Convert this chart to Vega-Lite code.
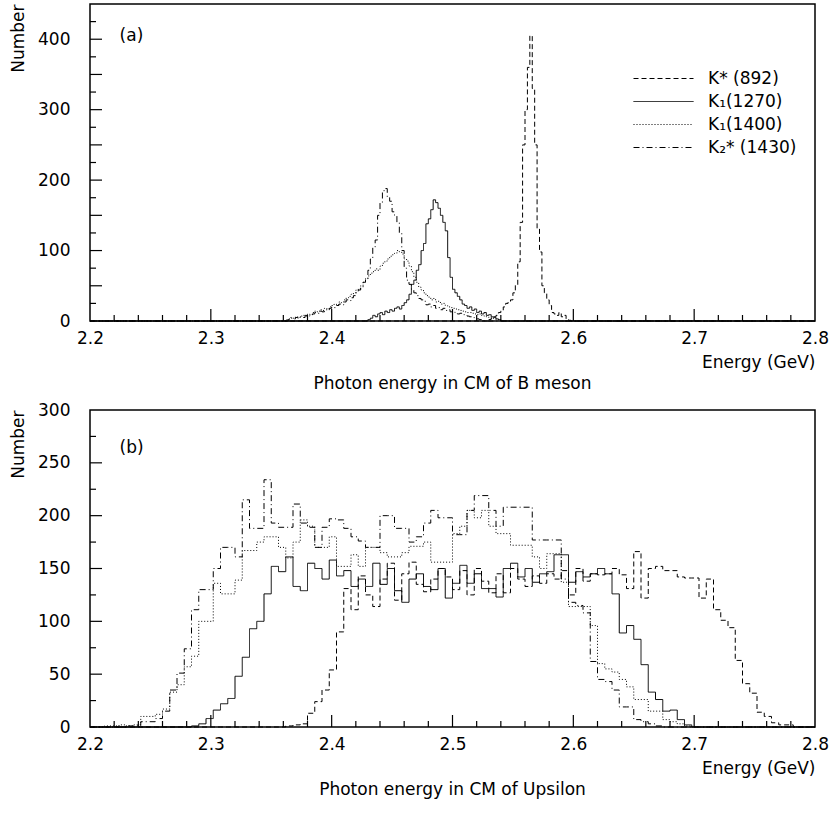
{
  "$schema": "https://vega.github.io/schema/vega-lite/v6.json",
  "padding": {"left": 8, "top": 3, "right": 10, "bottom": 0},
  "background": "white",
  "spacing": 7,
  "config": {
    "font": "DejaVu Sans",
    "view": {"stroke": "black", "strokeWidth": 1.5},
    "axis": {
      "domain": false, "ticks": false,
      "labelColor": "black", "titleColor": "black",
      "labelFont": "DejaVu Sans", "titleFont": "DejaVu Sans",
      "labelFontSize": 17, "titleFontSize": 17, "titleFontWeight": "normal",
      "grid": false, "labelOverlap": false, "labelFlush": false
    },
    "tick": {"color": "black", "opacity": 1, "thickness": 1.2},
    "title": {"font": "DejaVu Sans", "fontSize": 17, "fontWeight": "normal", "color": "black"}
  },
  "resolve": {"scale": {"strokeDash": "independent", "x": "independent", "y": "independent"}, "legend": {"strokeDash": "independent"}},
  "datasets": {
    "xmajor": [{"v": 2.3}, {"v": 2.4}, {"v": 2.5}, {"v": 2.6}, {"v": 2.7}],
    "xminor": [{"v":2.22},{"v":2.24},{"v":2.26},{"v":2.28},{"v":2.32},{"v":2.34},{"v":2.36},{"v":2.38},{"v":2.42},{"v":2.44},{"v":2.46},{"v":2.48},{"v":2.52},{"v":2.54},{"v":2.56},{"v":2.58},{"v":2.62},{"v":2.64},{"v":2.66},{"v":2.68},{"v":2.72},{"v":2.74},{"v":2.76},{"v":2.78}],
    "yamajor": [{"v":50},{"v":100},{"v":150},{"v":200},{"v":250},{"v":300},{"v":350},{"v":400}],
    "yaminor": [{"v":25},{"v":75},{"v":125},{"v":175},{"v":225},{"v":275},{"v":325},{"v":375},{"v":425}],
    "ybmajor": [{"v":50},{"v":100},{"v":150},{"v":200},{"v":250}],
    "ybminor": [{"v":25},{"v":75},{"v":125},{"v":175},{"v":225},{"v":275}],
    "a": [
      {"x":2.2,"a892":0,"b1270":0,"c1400":0,"d1430":0},
      {"x":2.360,"a892":0,"b1270":0,"c1400":0,"d1430":0},
      {"x":2.362,"a892":0,"b1270":0,"c1400":2,"d1430":0},
      {"x":2.364,"a892":0,"b1270":0,"c1400":3,"d1430":2},
      {"x":2.366,"a892":0,"b1270":0,"c1400":5,"d1430":4},
      {"x":2.368,"a892":0,"b1270":0,"c1400":4,"d1430":3},
      {"x":2.370,"a892":0,"b1270":0,"c1400":6,"d1430":5},
      {"x":2.372,"a892":0,"b1270":0,"c1400":5,"d1430":4},
      {"x":2.374,"a892":0,"b1270":0,"c1400":7,"d1430":6},
      {"x":2.376,"a892":0,"b1270":0,"c1400":8,"d1430":5},
      {"x":2.378,"a892":0,"b1270":0,"c1400":7,"d1430":8},
      {"x":2.380,"a892":0,"b1270":0,"c1400":10,"d1430":7},
      {"x":2.382,"a892":0,"b1270":0,"c1400":9,"d1430":9},
      {"x":2.384,"a892":0,"b1270":0,"c1400":12,"d1430":10},
      {"x":2.386,"a892":0,"b1270":0,"c1400":14,"d1430":12},
      {"x":2.388,"a892":0,"b1270":0,"c1400":13,"d1430":11},
      {"x":2.390,"a892":0,"b1270":0,"c1400":16,"d1430":14},
      {"x":2.392,"a892":0,"b1270":0,"c1400":15,"d1430":13},
      {"x":2.394,"a892":0,"b1270":0,"c1400":18,"d1430":16},
      {"x":2.396,"a892":0,"b1270":0,"c1400":17,"d1430":15},
      {"x":2.398,"a892":0,"b1270":0,"c1400":20,"d1430":18},
      {"x":2.400,"a892":0,"b1270":0,"c1400":22,"d1430":20},
      {"x":2.402,"a892":0,"b1270":0,"c1400":24,"d1430":19},
      {"x":2.404,"a892":0,"b1270":0,"c1400":23,"d1430":22},
      {"x":2.406,"a892":0,"b1270":0,"c1400":27,"d1430":24},
      {"x":2.408,"a892":0,"b1270":0,"c1400":26,"d1430":23},
      {"x":2.410,"a892":0,"b1270":0,"c1400":30,"d1430":27},
      {"x":2.412,"a892":0,"b1270":0,"c1400":33,"d1430":30},
      {"x":2.414,"a892":0,"b1270":0,"c1400":35,"d1430":29},
      {"x":2.416,"a892":0,"b1270":0,"c1400":38,"d1430":33},
      {"x":2.418,"a892":0,"b1270":0,"c1400":40,"d1430":36},
      {"x":2.420,"a892":0,"b1270":0,"c1400":44,"d1430":40},
      {"x":2.422,"a892":0,"b1270":0,"c1400":46,"d1430":44},
      {"x":2.424,"a892":0,"b1270":0,"c1400":50,"d1430":48},
      {"x":2.426,"a892":0,"b1270":0,"c1400":55,"d1430":55},
      {"x":2.428,"a892":0,"b1270":0,"c1400":60,"d1430":60},
      {"x":2.430,"a892":0,"b1270":2,"c1400":64,"d1430":72},
      {"x":2.432,"a892":0,"b1270":4,"c1400":68,"d1430":88},
      {"x":2.434,"a892":0,"b1270":8,"c1400":70,"d1430":105},
      {"x":2.436,"a892":0,"b1270":6,"c1400":74,"d1430":115},
      {"x":2.438,"a892":0,"b1270":10,"c1400":72,"d1430":150},
      {"x":2.440,"a892":0,"b1270":12,"c1400":78,"d1430":168},
      {"x":2.442,"a892":0,"b1270":9,"c1400":82,"d1430":185},
      {"x":2.444,"a892":0,"b1270":14,"c1400":85,"d1430":188},
      {"x":2.446,"a892":0,"b1270":12,"c1400":88,"d1430":176},
      {"x":2.448,"a892":0,"b1270":16,"c1400":92,"d1430":170},
      {"x":2.450,"a892":0,"b1270":14,"c1400":94,"d1430":155},
      {"x":2.452,"a892":0,"b1270":18,"c1400":96,"d1430":150},
      {"x":2.454,"a892":0,"b1270":20,"c1400":100,"d1430":140},
      {"x":2.456,"a892":0,"b1270":17,"c1400":98,"d1430":125},
      {"x":2.458,"a892":0,"b1270":22,"c1400":95,"d1430":100},
      {"x":2.460,"a892":0,"b1270":26,"c1400":88,"d1430":75},
      {"x":2.462,"a892":0,"b1270":30,"c1400":85,"d1430":58},
      {"x":2.464,"a892":0,"b1270":38,"c1400":78,"d1430":52},
      {"x":2.466,"a892":0,"b1270":52,"c1400":70,"d1430":45},
      {"x":2.468,"a892":0,"b1270":58,"c1400":62,"d1430":40},
      {"x":2.470,"a892":0,"b1270":72,"c1400":55,"d1430":36},
      {"x":2.472,"a892":0,"b1270":80,"c1400":48,"d1430":32},
      {"x":2.474,"a892":0,"b1270":100,"c1400":44,"d1430":30},
      {"x":2.476,"a892":0,"b1270":110,"c1400":40,"d1430":28},
      {"x":2.478,"a892":0,"b1270":138,"c1400":36,"d1430":23},
      {"x":2.480,"a892":0,"b1270":145,"c1400":34,"d1430":24},
      {"x":2.482,"a892":0,"b1270":158,"c1400":30,"d1430":20},
      {"x":2.484,"a892":0,"b1270":172,"c1400":32,"d1430":22},
      {"x":2.486,"a892":0,"b1270":168,"c1400":27,"d1430":18},
      {"x":2.488,"a892":0,"b1270":160,"c1400":28,"d1430":19},
      {"x":2.490,"a892":0,"b1270":150,"c1400":24,"d1430":16},
      {"x":2.492,"a892":0,"b1270":140,"c1400":25,"d1430":18},
      {"x":2.494,"a892":0,"b1270":128,"c1400":22,"d1430":15},
      {"x":2.496,"a892":0,"b1270":90,"c1400":20,"d1430":16},
      {"x":2.498,"a892":0,"b1270":62,"c1400":19,"d1430":13},
      {"x":2.500,"a892":0,"b1270":45,"c1400":18,"d1430":14},
      {"x":2.502,"a892":0,"b1270":40,"c1400":17,"d1430":12},
      {"x":2.504,"a892":0,"b1270":35,"c1400":16,"d1430":10},
      {"x":2.506,"a892":0,"b1270":30,"c1400":15,"d1430":11},
      {"x":2.508,"a892":0,"b1270":24,"c1400":14,"d1430":9},
      {"x":2.510,"a892":0,"b1270":22,"c1400":13,"d1430":8},
      {"x":2.512,"a892":0,"b1270":18,"c1400":12,"d1430":7},
      {"x":2.514,"a892":0,"b1270":20,"c1400":12,"d1430":6},
      {"x":2.516,"a892":0,"b1270":15,"c1400":11,"d1430":5},
      {"x":2.518,"a892":0,"b1270":17,"c1400":10,"d1430":4},
      {"x":2.520,"a892":0,"b1270":12,"c1400":9,"d1430":3},
      {"x":2.522,"a892":0,"b1270":14,"c1400":10,"d1430":2},
      {"x":2.524,"a892":0,"b1270":10,"c1400":8,"d1430":1},
      {"x":2.526,"a892":0,"b1270":12,"c1400":7,"d1430":0},
      {"x":2.528,"a892":0,"b1270":8,"c1400":6,"d1430":0},
      {"x":2.530,"a892":2,"b1270":9,"c1400":5,"d1430":0},
      {"x":2.532,"a892":4,"b1270":6,"c1400":4,"d1430":0},
      {"x":2.534,"a892":6,"b1270":5,"c1400":3,"d1430":0},
      {"x":2.536,"a892":8,"b1270":3,"c1400":2,"d1430":0},
      {"x":2.538,"a892":12,"b1270":2,"c1400":1,"d1430":0},
      {"x":2.540,"a892":15,"b1270":0,"c1400":0,"d1430":0},
      {"x":2.542,"a892":20,"b1270":0,"c1400":0,"d1430":0},
      {"x":2.544,"a892":25,"b1270":0,"c1400":0,"d1430":0},
      {"x":2.546,"a892":27,"b1270":0,"c1400":0,"d1430":0},
      {"x":2.548,"a892":30,"b1270":0,"c1400":0,"d1430":0},
      {"x":2.550,"a892":40,"b1270":0,"c1400":0,"d1430":0},
      {"x":2.552,"a892":51,"b1270":0,"c1400":0,"d1430":0},
      {"x":2.554,"a892":84,"b1270":0,"c1400":0,"d1430":0},
      {"x":2.556,"a892":140,"b1270":0,"c1400":0,"d1430":0},
      {"x":2.558,"a892":250,"b1270":0,"c1400":0,"d1430":0},
      {"x":2.560,"a892":300,"b1270":0,"c1400":0,"d1430":0},
      {"x":2.562,"a892":360,"b1270":0,"c1400":0,"d1430":0},
      {"x":2.564,"a892":405,"b1270":0,"c1400":0,"d1430":0},
      {"x":2.566,"a892":330,"b1270":0,"c1400":0,"d1430":0},
      {"x":2.568,"a892":250,"b1270":0,"c1400":0,"d1430":0},
      {"x":2.570,"a892":131,"b1270":0,"c1400":0,"d1430":0},
      {"x":2.572,"a892":98,"b1270":0,"c1400":0,"d1430":0},
      {"x":2.574,"a892":50,"b1270":0,"c1400":0,"d1430":0},
      {"x":2.576,"a892":40,"b1270":0,"c1400":0,"d1430":0},
      {"x":2.578,"a892":30,"b1270":0,"c1400":0,"d1430":0},
      {"x":2.580,"a892":22,"b1270":0,"c1400":0,"d1430":0},
      {"x":2.582,"a892":12,"b1270":0,"c1400":0,"d1430":0},
      {"x":2.584,"a892":10,"b1270":0,"c1400":0,"d1430":0},
      {"x":2.586,"a892":8,"b1270":0,"c1400":0,"d1430":0},
      {"x":2.588,"a892":12,"b1270":0,"c1400":0,"d1430":0},
      {"x":2.590,"a892":6,"b1270":0,"c1400":0,"d1430":0},
      {"x":2.592,"a892":8,"b1270":0,"c1400":0,"d1430":0},
      {"x":2.594,"a892":3,"b1270":0,"c1400":0,"d1430":0},
      {"x":2.596,"a892":1,"b1270":0,"c1400":0,"d1430":0},
      {"x":2.598,"a892":0,"b1270":0,"c1400":0,"d1430":0},
      {"x":2.8,"a892":0,"b1270":0,"c1400":0,"d1430":0}
    ],
    "b": [
      {"x":2.200,"a892":0,"b1270":0,"c1400":0,"d1430":0},
      {"x":2.206,"a892":0,"b1270":0,"c1400":0,"d1430":0},
      {"x":2.212,"a892":0,"b1270":0,"c1400":1,"d1430":0},
      {"x":2.218,"a892":0,"b1270":0,"c1400":1,"d1430":0},
      {"x":2.224,"a892":0,"b1270":0,"c1400":2,"d1430":0},
      {"x":2.230,"a892":0,"b1270":0,"c1400":1,"d1430":1},
      {"x":2.236,"a892":0,"b1270":0,"c1400":2,"d1430":1},
      {"x":2.242,"a892":0,"b1270":0,"c1400":10,"d1430":5},
      {"x":2.248,"a892":0,"b1270":0,"c1400":10,"d1430":5},
      {"x":2.254,"a892":0,"b1270":0,"c1400":12,"d1430":8},
      {"x":2.260,"a892":0,"b1270":0,"c1400":17,"d1430":15},
      {"x":2.266,"a892":0,"b1270":0,"c1400":33,"d1430":35},
      {"x":2.272,"a892":0,"b1270":0,"c1400":40,"d1430":51},
      {"x":2.278,"a892":0,"b1270":0,"c1400":57,"d1430":74},
      {"x":2.284,"a892":0,"b1270":1,"c1400":67,"d1430":111},
      {"x":2.290,"a892":0,"b1270":3,"c1400":100,"d1430":130},
      {"x":2.296,"a892":0,"b1270":8,"c1400":100,"d1430":130},
      {"x":2.302,"a892":0,"b1270":16,"c1400":136,"d1430":150},
      {"x":2.308,"a892":0,"b1270":22,"c1400":126,"d1430":170},
      {"x":2.314,"a892":0,"b1270":27,"c1400":126,"d1430":170},
      {"x":2.320,"a892":0,"b1270":48,"c1400":139,"d1430":161},
      {"x":2.326,"a892":0,"b1270":66,"c1400":167,"d1430":215},
      {"x":2.332,"a892":0,"b1270":93,"c1400":167,"d1430":188},
      {"x":2.338,"a892":0,"b1270":100,"c1400":175,"d1430":188},
      {"x":2.344,"a892":0,"b1270":126,"c1400":180,"d1430":234},
      {"x":2.350,"a892":0,"b1270":152,"c1400":180,"d1430":193},
      {"x":2.356,"a892":0,"b1270":147,"c1400":170,"d1430":189},
      {"x":2.362,"a892":1,"b1270":161,"c1400":160,"d1430":189},
      {"x":2.368,"a892":2,"b1270":133,"c1400":175,"d1430":211},
      {"x":2.374,"a892":3,"b1270":129,"c1400":196,"d1430":193},
      {"x":2.380,"a892":13,"b1270":155,"c1400":190,"d1430":189},
      {"x":2.386,"a892":24,"b1270":150,"c1400":170,"d1430":170},
      {"x":2.392,"a892":35,"b1270":140,"c1400":170,"d1430":189},
      {"x":2.398,"a892":54,"b1270":158,"c1400":180,"d1430":197},
      {"x":2.404,"a892":90,"b1270":143,"c1400":152,"d1430":196},
      {"x":2.410,"a892":131,"b1270":148,"c1400":152,"d1430":188},
      {"x":2.416,"a892":111,"b1270":133,"c1400":163,"d1430":180},
      {"x":2.422,"a892":143,"b1270":140,"c1400":152,"d1430":176},
      {"x":2.428,"a892":125,"b1270":133,"c1400":170,"d1430":170},
      {"x":2.434,"a892":114,"b1270":155,"c1400":170,"d1430":170},
      {"x":2.440,"a892":140,"b1270":135,"c1400":165,"d1430":200},
      {"x":2.446,"a892":155,"b1270":150,"c1400":161,"d1430":200},
      {"x":2.452,"a892":120,"b1270":129,"c1400":161,"d1430":188},
      {"x":2.458,"a892":145,"b1270":118,"c1400":165,"d1430":188},
      {"x":2.464,"a892":156,"b1270":140,"c1400":171,"d1430":175},
      {"x":2.470,"a892":135,"b1270":145,"c1400":171,"d1430":180},
      {"x":2.476,"a892":128,"b1270":133,"c1400":175,"d1430":193},
      {"x":2.482,"a892":140,"b1270":130,"c1400":156,"d1430":205},
      {"x":2.488,"a892":150,"b1270":150,"c1400":156,"d1430":198},
      {"x":2.494,"a892":142,"b1270":122,"c1400":156,"d1430":198},
      {"x":2.500,"a892":130,"b1270":136,"c1400":183,"d1430":182},
      {"x":2.506,"a892":148,"b1270":153,"c1400":190,"d1430":182},
      {"x":2.512,"a892":125,"b1270":136,"c1400":205,"d1430":205},
      {"x":2.518,"a892":150,"b1270":145,"c1400":198,"d1430":219},
      {"x":2.524,"a892":138,"b1270":131,"c1400":205,"d1430":219},
      {"x":2.530,"a892":127,"b1270":131,"c1400":190,"d1430":205},
      {"x":2.536,"a892":145,"b1270":123,"c1400":183,"d1430":190},
      {"x":2.542,"a892":127,"b1270":150,"c1400":183,"d1430":208},
      {"x":2.548,"a892":150,"b1270":155,"c1400":172,"d1430":208},
      {"x":2.554,"a892":140,"b1270":142,"c1400":172,"d1430":208},
      {"x":2.560,"a892":133,"b1270":150,"c1400":172,"d1430":208},
      {"x":2.566,"a892":143,"b1270":137,"c1400":161,"d1430":177},
      {"x":2.572,"a892":136,"b1270":145,"c1400":150,"d1430":177},
      {"x":2.578,"a892":145,"b1270":147,"c1400":164,"d1430":177},
      {"x":2.584,"a892":140,"b1270":163,"c1400":164,"d1430":177},
      {"x":2.590,"a892":148,"b1270":163,"c1400":137,"d1430":140},
      {"x":2.596,"a892":125,"b1270":137,"c1400":114,"d1430":118},
      {"x":2.602,"a892":150,"b1270":147,"c1400":114,"d1430":115},
      {"x":2.608,"a892":138,"b1270":142,"c1400":114,"d1430":108},
      {"x":2.614,"a892":145,"b1270":145,"c1400":96,"d1430":62},
      {"x":2.620,"a892":144,"b1270":150,"c1400":60,"d1430":45},
      {"x":2.626,"a892":145,"b1270":145,"c1400":55,"d1430":43},
      {"x":2.632,"a892":150,"b1270":126,"c1400":52,"d1430":35},
      {"x":2.638,"a892":144,"b1270":89,"c1400":45,"d1430":19},
      {"x":2.644,"a892":131,"b1270":96,"c1400":38,"d1430":19},
      {"x":2.650,"a892":166,"b1270":83,"c1400":26,"d1430":7},
      {"x":2.656,"a892":122,"b1270":59,"c1400":26,"d1430":5},
      {"x":2.662,"a892":150,"b1270":33,"c1400":15,"d1430":3},
      {"x":2.668,"a892":152,"b1270":26,"c1400":15,"d1430":1},
      {"x":2.674,"a892":148,"b1270":15,"c1400":7,"d1430":0},
      {"x":2.680,"a892":148,"b1270":16,"c1400":5,"d1430":0},
      {"x":2.686,"a892":142,"b1270":7,"c1400":3,"d1430":0},
      {"x":2.692,"a892":141,"b1270":2,"c1400":1,"d1430":0},
      {"x":2.698,"a892":141,"b1270":0,"c1400":0,"d1430":0},
      {"x":2.704,"a892":122,"b1270":0,"c1400":0,"d1430":0},
      {"x":2.710,"a892":140,"b1270":0,"c1400":0,"d1430":0},
      {"x":2.716,"a892":111,"b1270":0,"c1400":0,"d1430":0},
      {"x":2.722,"a892":101,"b1270":0,"c1400":0,"d1430":0},
      {"x":2.728,"a892":94,"b1270":0,"c1400":0,"d1430":0},
      {"x":2.734,"a892":63,"b1270":0,"c1400":0,"d1430":0},
      {"x":2.740,"a892":41,"b1270":0,"c1400":0,"d1430":0},
      {"x":2.746,"a892":32,"b1270":0,"c1400":0,"d1430":0},
      {"x":2.752,"a892":14,"b1270":0,"c1400":0,"d1430":0},
      {"x":2.758,"a892":10,"b1270":0,"c1400":0,"d1430":0},
      {"x":2.764,"a892":4,"b1270":0,"c1400":0,"d1430":0},
      {"x":2.770,"a892":2,"b1270":0,"c1400":0,"d1430":0},
      {"x":2.776,"a892":2,"b1270":0,"c1400":0,"d1430":0},
      {"x":2.782,"a892":0,"b1270":0,"c1400":0,"d1430":0},
      {"x":2.800,"a892":0,"b1270":0,"c1400":0,"d1430":0}
    ]
  },
  "vconcat": [
    {
      "width": 725,
      "height": 317,
      "title": {"text": "Photon energy in CM of B meson", "orient": "bottom", "anchor": "middle", "offset": 6},
      "layer": [
        {
          "data": {"name": "a"},
          "transform": [{"fold": ["a892", "b1270", "c1400", "d1430"], "as": ["series", "n"]}],
          "mark": {"type": "line", "interpolate": "step-after", "strokeWidth": 1, "color": "black"},
          "encoding": {
            "x": {
              "field": "x", "type": "quantitative",
              "scale": {"domain": [2.2, 2.8], "nice": false, "zero": false},
              "axis": {
                "orient": "bottom",
                "title": "Energy (GeV)", "titleAnchor": "end", "titleAlign": "right", "titlePadding": 8,
                "values": [2.2, 2.3, 2.4, 2.5, 2.6, 2.7, 2.8], "format": ".1f",
                "labelPadding": 9, "labelOverlap": false
              }
            },
            "y": {
              "field": "n", "type": "quantitative",
              "scale": {"domain": [0, 450], "nice": false},
              "axis": {
                "orient": "left",
                "title": "Number", "titleAnchor": "end", "titlePadding": 10,
                "values": [0, 50, 100, 150, 200, 250, 300, 350, 400, 450],
                "labelPadding": 20, "labelOverlap": false
              }
            },
            "strokeDash": {
              "field": "series", "type": "nominal",
              "scale": {"domain": ["a892", "b1270", "c1400", "d1430"], "range": [[5, 3], [1, 0], [1, 2], [6, 3, 1, 3]]},
              "legend": {
                "orient": "none", "legendX": 563, "legendY": 64, "title": null,
                "symbolType": "M-3,0H3", "symbolSize": 400, "symbolStrokeWidth": 1, "symbolStrokeColor": "black",
                "labelFont": "DejaVu Sans", "labelFontSize": 17, "labelColor": "black", "labelOffset": 34, "rowPadding": 4,
                "labelExpr": "datum.value == 'a892' ? 'K* (892)' : datum.value == 'b1270' ? 'K₁(1270)' : datum.value == 'c1400' ? 'K₁(1400)' : 'K₂* (1430)'"
              }
            }
          }
        },
        {
          "data": {"name": "xmajor"},
          "mark": {"type": "tick", "orient": "vertical", "size": 12, "yOffset": -6},
          "encoding": {"x": {"field": "v", "type": "quantitative"}, "y": {"datum": 0, "type": "quantitative"}}
        },
        {
          "data": {"name": "xminor"},
          "mark": {"type": "tick", "orient": "vertical", "size": 6, "yOffset": -3},
          "encoding": {"x": {"field": "v", "type": "quantitative"}, "y": {"datum": 0, "type": "quantitative"}}
        },
        {
          "data": {"name": "yamajor"},
          "mark": {"type": "tick", "orient": "horizontal", "size": 12, "xOffset": 6},
          "encoding": {"y": {"field": "v", "type": "quantitative"}, "x": {"datum": 2.2, "type": "quantitative"}}
        },
        {
          "data": {"name": "yaminor"},
          "mark": {"type": "tick", "orient": "horizontal", "size": 6, "xOffset": 3},
          "encoding": {"y": {"field": "v", "type": "quantitative"}, "x": {"datum": 2.2, "type": "quantitative"}}
        },
        {
          "data": {"values": [{"x": 2.2245, "y": 405, "t": "(a)"}]},
          "mark": {"type": "text", "align": "left", "baseline": "middle", "fontSize": 17, "font": "DejaVu Sans", "color": "black"},
          "encoding": {
            "x": {"field": "x", "type": "quantitative"},
            "y": {"field": "y", "type": "quantitative"},
            "text": {"field": "t"}
          }
        }
      ]
    },
    {
      "width": 725,
      "height": 317,
      "title": {"text": "Photon energy in CM of Upsilon", "orient": "bottom", "anchor": "middle", "offset": 6},
      "layer": [
        {
          "data": {"name": "b"},
          "transform": [{"fold": ["a892", "b1270", "c1400", "d1430"], "as": ["series", "n"]}],
          "mark": {"type": "line", "interpolate": "step-after", "strokeWidth": 1, "color": "black"},
          "encoding": {
            "x": {
              "field": "x", "type": "quantitative",
              "scale": {"domain": [2.2, 2.8], "nice": false, "zero": false},
              "axis": {
                "orient": "bottom",
                "title": "Energy (GeV)", "titleAnchor": "end", "titleAlign": "right", "titlePadding": 8,
                "values": [2.2, 2.3, 2.4, 2.5, 2.6, 2.7, 2.8], "format": ".1f",
                "labelPadding": 9, "labelOverlap": false
              }
            },
            "y": {
              "field": "n", "type": "quantitative",
              "scale": {"domain": [0, 300], "nice": false},
              "axis": {
                "orient": "left",
                "title": "Number", "titleAnchor": "end", "titlePadding": 10,
                "values": [0, 50, 100, 150, 200, 250, 300],
                "labelPadding": 20, "labelOverlap": false
              }
            },
            "strokeDash": {
              "field": "series", "type": "nominal",
              "scale": {"domain": ["a892", "b1270", "c1400", "d1430"], "range": [[5, 3], [1, 0], [1, 2], [6, 3, 1, 3]]},
              "legend": null
            }
          }
        },
        {
          "data": {"name": "xmajor"},
          "mark": {"type": "tick", "orient": "vertical", "size": 12, "yOffset": -6},
          "encoding": {"x": {"field": "v", "type": "quantitative"}, "y": {"datum": 0, "type": "quantitative"}}
        },
        {
          "data": {"name": "xminor"},
          "mark": {"type": "tick", "orient": "vertical", "size": 6, "yOffset": -3},
          "encoding": {"x": {"field": "v", "type": "quantitative"}, "y": {"datum": 0, "type": "quantitative"}}
        },
        {
          "data": {"name": "ybmajor"},
          "mark": {"type": "tick", "orient": "horizontal", "size": 12, "xOffset": 6},
          "encoding": {"y": {"field": "v", "type": "quantitative"}, "x": {"datum": 2.2, "type": "quantitative"}}
        },
        {
          "data": {"name": "ybminor"},
          "mark": {"type": "tick", "orient": "horizontal", "size": 6, "xOffset": 3},
          "encoding": {"y": {"field": "v", "type": "quantitative"}, "x": {"datum": 2.2, "type": "quantitative"}}
        },
        {
          "data": {"values": [{"x": 2.2245, "y": 264, "t": "(b)"}]},
          "mark": {"type": "text", "align": "left", "baseline": "middle", "fontSize": 17, "font": "DejaVu Sans", "color": "black"},
          "encoding": {
            "x": {"field": "x", "type": "quantitative"},
            "y": {"field": "y", "type": "quantitative"},
            "text": {"field": "t"}
          }
        }
      ]
    }
  ]
}
